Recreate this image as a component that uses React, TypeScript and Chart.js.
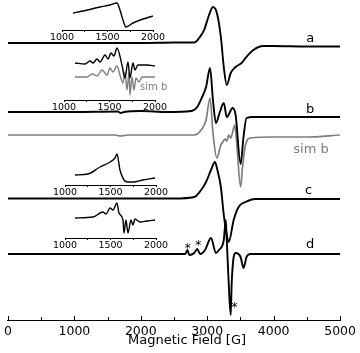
import React, { useEffect, useRef } from "react";
import { Chart, registerables } from "chart.js";

Chart.register(...registerables);

const FONT = "'DejaVu Sans', sans-serif";
const BLACK = "#000000";
const GRAY = "#7d7d7d";

// ---------- main spectra: magnetic field [G] and stacked intensity (a.u.) ----------
const X_MIN = 0;
const X_MAX = 5000;
const MAJOR_STEP = 1000;
const MINOR_STEP = 500;
const AXIS_TITLE = "Magnetic Field [G]";

const aField = [0, 1000, 2000, 2500, 2804, 2878, 2953, 3027, 3086, 3145, 3205, 3249, 3294, 3353, 3427, 3516, 3576, 3694, 3843, 3991, 4500, 5000];
const aSignal = [277, 277, 277, 277.5, 277.5, 282, 290, 305, 313, 307, 283, 253, 235, 247, 253, 257, 262, 270, 274, 274, 273.5, 273.5];

const bField = [0, 1000, 1650, 1700, 1750, 2000, 2400, 2760, 2849, 2923, 2982, 3042, 3086, 3131, 3190, 3249, 3294, 3383, 3427, 3502, 3546, 3591, 3694, 3991, 4500, 5000];
const bSignal = [208, 208, 208.5, 207, 208, 209, 208, 209, 213, 223, 233, 252, 220, 197, 208, 217, 203, 212, 205, 156, 183, 202, 203, 203, 203, 203];

const simBField = [0, 1000, 1600, 1700, 1800, 2000, 2500, 2804, 2908, 2982, 3042, 3086, 3145, 3205, 3235, 3265, 3294, 3324, 3353, 3383, 3412, 3440, 3502, 3531, 3576, 3650, 3991, 4500, 5000];
const simBSignal = [185, 185, 185, 184, 185, 185, 185, 185, 190, 200, 222, 187, 162, 175, 178, 181, 179, 185, 182, 188, 195, 180, 133, 153, 175, 182, 183, 183, 185];

const cField = [0, 1000, 2000, 2500, 2804, 2908, 2982, 3056, 3116, 3145, 3205, 3249, 3294, 3323, 3398, 3472, 3576, 3724, 4000, 5000];
const cSignal = [121.5, 121.5, 121.5, 121.5, 123, 130, 138, 150, 158, 152, 133, 105, 85, 78, 100, 113, 118, 121, 121, 121];

const dField = [0, 1000, 2000, 2500, 2670, 2700, 2730, 2804, 2849, 2893, 2967, 3056, 3131, 3175, 3249, 3279, 3294, 3323, 3353, 3368, 3398, 3427, 3502, 3546, 3591, 3650, 4000, 5000];
const dSignal = [66, 66, 66, 66, 66, 70, 65, 67, 71, 66, 70, 82, 67, 70, 80, 100, 80, 37, 5, 37, 63, 67, 63, 52, 63, 66, 66, 66];

const traceNames = ["a", "b", "sim b", "c", "d"];
const starText = "*";

// ---------- insets: field [G] 1000-2000 ----------
const INSET_MIN = 1000;
const INSET_MAX = 2000;
const INSET_STEP = 250;
const INSET_LABEL_STEP = 500;

const insetAField = [1121, 1231, 1418, 1527, 1604, 1637, 1670, 1703, 1780, 1890, 2000];
const insetASignal = [17, 19, 23, 25, 27, 20, 10, 3, 7, 11, 14];

const insetBField = [1121, 1231, 1286, 1319, 1363, 1396, 1451, 1484, 1516, 1549, 1582, 1637, 1670, 1703, 1725, 1758, 1780, 1813, 1912, 2000];
const insetBSignal = [37, 36, 39, 37, 41, 38, 45, 41, 47, 44, 52, 35, 22, 38, 22, 37, 30, 35, 35, 34];

const insetSimBField = [1121, 1253, 1308, 1363, 1418, 1473, 1505, 1538, 1582, 1615, 1648, 1670, 1692, 1714, 1725, 1747, 1769, 1791, 1824, 1857, 2000];
const insetSimBSignal = [23, 23, 26, 24, 30, 25, 32, 28, 34, 25, 17, 28, 10, 27, 5, 23, 10, 22, 18, 23, 23];

const insetCField = [1110, 1253, 1385, 1495, 1549, 1571, 1604, 1648, 1692, 1747, 1857, 1989];
const insetCSignal = [10, 11, 18, 23, 27, 31, 15, 5, 3, 3, 5, 7];

const insetDField = [1110, 1308, 1352, 1385, 1418, 1451, 1495, 1527, 1571, 1593, 1637, 1648, 1670, 1692, 1725, 1747, 1769, 1824, 1901, 1989];
const insetDSignal = [20, 21, 23, 25, 26, 24, 30, 28, 35, 25, 18, 5, 18, 5, 18, 13, 19, 16, 17, 18];

const toXY = (xs: number[], ys: number[]) => xs.map((x, i) => ({ x, y: ys[i] }));

function line(xs: number[], ys: number[], color: string, width: number) {
  return {
    data: toXY(xs, ys),
    borderColor: color,
    borderWidth: width,
    pointRadius: 0,
    fill: false,
    cubicInterpolationMode: "monotone" as const,
  };
}

const mainDecor = {
  id: "mainDecor",
  afterDraw(chart: any) {
    const ctx = chart.ctx;
    const xs = chart.scales.x;
    const ys = chart.scales.y;
    const axisY = chart.chartArea.bottom;
    ctx.save();
    ctx.strokeStyle = BLACK;
    ctx.lineWidth = 1;
    for (let v = X_MIN; v <= X_MAX; v += MINOR_STEP) {
      const px = Math.round(xs.getPixelForValue(v)) + 0.5;
      const len = v % MAJOR_STEP === 0 ? 4 : 3;
      ctx.beginPath();
      ctx.moveTo(px, axisY);
      ctx.lineTo(px, axisY - len);
      ctx.stroke();
    }
    const tags = [
      { text: traceNames[0], x: 4550, y: 278.5, color: BLACK },
      { text: traceNames[1], x: 4550, y: 207, color: BLACK },
      { text: traceNames[2], x: 4562, y: 167, color: GRAY },
      { text: traceNames[3], x: 4525, y: 126, color: BLACK },
      { text: traceNames[4], x: 4550, y: 72, color: BLACK },
    ];
    ctx.font = `13px ${FONT}`;
    ctx.textAlign = "center";
    ctx.textBaseline = "alphabetic";
    for (const t of tags) {
      ctx.fillStyle = t.color;
      ctx.fillText(t.text, xs.getPixelForValue(t.x), ys.getPixelForValue(t.y));
    }
    const stars = [
      { x: 2705, y: 68 },
      { x: 2864, y: 71 },
      { x: 3412, y: 9 },
    ];
    ctx.font = `12px ${FONT}`;
    ctx.fillStyle = BLACK;
    for (const s of stars) {
      ctx.fillText(starText, xs.getPixelForValue(s.x), ys.getPixelForValue(s.y));
    }
    ctx.font = `13px ${FONT}`;
    ctx.textBaseline = "middle";
    ctx.fillText(AXIS_TITLE, (xs.left + xs.right) / 2 + 13, axisY + 21);
    ctx.restore();
  },
};

const insetNote = {
  id: "insetNote",
  afterDraw(chart: any) {
    const note = chart.options.plugins.insetNote;
    if (!note || !note.text) return;
    const ctx = chart.ctx;
    ctx.save();
    ctx.font = `10px ${FONT}`;
    ctx.fillStyle = note.color;
    ctx.textAlign = "left";
    ctx.textBaseline = "alphabetic";
    ctx.fillText(note.text, chart.scales.x.getPixelForValue(note.x), chart.scales.y.getPixelForValue(note.y));
    ctx.restore();
  },
};

type InsetCfg = {
  left: number;
  top: number;
  width: number;
  height: number;
  padL: number;
  padR: number;
  yMax: number;
  datasets: any[];
  note?: { text: string; x: number; y: number; color: string };
};

const insets: InsetCfg[] = [
  { left: 40, top: 0, width: 140, height: 46, padL: 22, padR: 27, yMax: 30, datasets: [line(insetAField, insetASignal, BLACK, 1.4)] },
  {
    left: 40, top: 44, width: 140, height: 72, padL: 24, padR: 25, yMax: 56,
    datasets: [line(insetBField, insetBSignal, BLACK, 1.4), line(insetSimBField, insetSimBSignal, GRAY, 1.4)],
    note: { text: "sim b", x: 1835, y: 10, color: GRAY },
  },
  { left: 40, top: 149, width: 140, height: 52, padL: 25, padR: 24, yMax: 36, datasets: [line(insetCField, insetCSignal, BLACK, 1.4)] },
  { left: 40, top: 198, width: 140, height: 56, padL: 25, padR: 24, yMax: 40, datasets: [line(insetDField, insetDSignal, BLACK, 1.4)] },
];

export default function App() {
  const mainRef = useRef<HTMLCanvasElement | null>(null);
  const insetRefs = useRef<(HTMLCanvasElement | null)[]>([]);

  useEffect(() => {
    const charts: Chart[] = [];
    if (mainRef.current) {
      charts.push(
        new Chart(mainRef.current, {
          type: "line",
          data: {
            datasets: [
              line(aField, aSignal, BLACK, 1.9),
              line(bField, bSignal, BLACK, 1.9),
              line(simBField, simBSignal, GRAY, 1.7),
              line(cField, cSignal, BLACK, 1.9),
              line(dField, dSignal, BLACK, 1.9),
            ],
          },
          options: {
            animation: false,
            responsive: false,
            devicePixelRatio: 1,
            layout: { padding: { left: 6, right: 17, top: 0, bottom: 0 } },
            plugins: { legend: { display: false }, tooltip: { enabled: false } },
            scales: {
              x: {
                type: "linear",
                min: X_MIN,
                max: X_MAX,
                afterFit: (s: any) => { s.height = 33; },
                grid: { display: false, drawTicks: false },
                border: { display: true, color: BLACK, width: 1 },
                ticks: {
                  stepSize: MINOR_STEP,
                  autoSkip: false,
                  maxRotation: 0,
                  padding: 4,
                  color: BLACK,
                  font: { family: FONT, size: 12.5 },
                  callback: (v: any) => (Number(v) % MAJOR_STEP === 0 ? String(v) : ""),
                },
              },
              y: { type: "linear", display: false, min: 0, max: 320 },
            },
          } as any,
          plugins: [mainDecor],
        })
      );
    }
    insets.forEach((cfg, i) => {
      const cv = insetRefs.current[i];
      if (!cv) return;
      charts.push(
        new Chart(cv, {
          type: "line",
          data: { datasets: cfg.datasets },
          options: {
            animation: false,
            responsive: false,
            devicePixelRatio: 1,
            layout: { padding: { left: cfg.padL, right: cfg.padR, top: 0, bottom: 0 } },
            plugins: {
              legend: { display: false },
              tooltip: { enabled: false },
              insetNote: cfg.note || {},
            },
            scales: {
              x: {
                type: "linear",
                min: INSET_MIN,
                max: INSET_MAX,
                afterFit: (s: any) => { s.height = cfg.height - cfg.yMax; },
                grid: { display: true, drawOnChartArea: false, drawTicks: true, tickLength: 2, color: BLACK },
                border: { display: true, color: BLACK, width: 1 },
                ticks: {
                  stepSize: INSET_STEP,
                  autoSkip: false,
                  maxRotation: 0,
                  padding: 0,
                  color: BLACK,
                  font: { family: FONT, size: 9.5 },
                  callback: (v: any) => (Number(v) % INSET_LABEL_STEP === 0 ? String(v) : ""),
                },
              },
              y: { type: "linear", display: false, min: 0, max: cfg.yMax },
            },
          } as any,
          plugins: [insetNote],
        })
      );
    });
    return () => charts.forEach((c) => c.destroy());
  }, []);

  return (
    <div style={{ position: "fixed", left: 0, top: 0, width: 360, height: 353, background: "#ffffff" }}>
      <canvas ref={mainRef} width={360} height={353} style={{ position: "absolute", left: 0, top: 0 }} />
      {insets.map((cfg, i) => (
        <canvas
          key={i}
          ref={(el) => { insetRefs.current[i] = el; }}
          width={cfg.width}
          height={cfg.height}
          style={{ position: "absolute", left: cfg.left, top: cfg.top, width: cfg.width, height: cfg.height }}
        />
      ))}
    </div>
  );
}
